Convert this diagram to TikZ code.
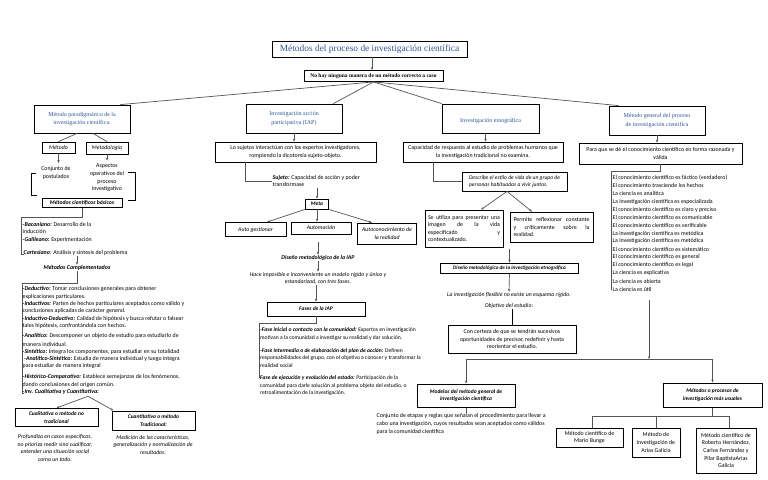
\documentclass[tikz,border=0pt]{standalone}
\usepackage{fontspec}
\setmainfont{Carlito}
\newfontfamily\serifblue{Liberation Serif}
\usetikzlibrary{arrows.meta,calc}
\definecolor{cblue}{RGB}{47,85,151}
\definecolor{lgray}{RGB}{85,85,85}
\newcommand\bi[1]{\textbf{\textit{#1}}}
\newcommand\fz[2]{\fontsize{#1}{#2}\selectfont}
\begin{document}
\begin{tikzpicture}[x=1pt,y=-1pt,
 every node/.style={inner sep=0.5pt, font=\fz{5.9}{7.6}},
 sz/.style 2 args={minimum width=#1pt, minimum height=#2pt},
 bx/.style={draw=black, line width=0.8pt, align=center, inner sep=1pt},
 cat/.style={bx, font=\serifblue\fz{6}{8.5}, text=cblue},
 bif/.style={font=\bfseries\itshape\fz{5.5}{7.6}},
 itf/.style={font=\itshape\fz{5.8}{7.6}},
 txt/.style={align=center},
 conn/.style={draw=lgray, line width=0.7pt},
 arr/.style={conn, -{Stealth[length=3pt,width=2.4pt]}},
]
\fill[white] (0,0) rectangle (768,479);
\useasboundingbox (0,0) rectangle (768,479);

% top
\node[bx, sz={195}{16}, font=\serifblue\fz{9.4}{11}, text=cblue] (title) at (369.5,49) {Métodos del proceso de investigación científica};
\node[bx, sz={139}{11}, font=\serifblue\bfseries\fz{5.5}{6}] (sub) at (373.5,76) {No hay ninguna manera de un método correcto a caso};
\draw[arr] ($(title.south)+(2.5,0)$) -- ($(sub.north)+(-1.5,0)$);

\node[cat, sz={96}{28}] (c1) at (82,119) {Método paradigmático de la\\investigación científica.};
\node[cat, sz={96}{29}] (c2) at (294,118.5) {Investigación acción\\participativa (IAP)};
\node[cat, sz={97}{29}] (c3) at (490.5,118.5) {\mbox{}\\Investigación etnográfica};
\node[cat, sz={96}{29}] (c4) at (657,120.5) {Método general del proceso\\de investigación científica};
\draw[conn] (sub.south) -- ([xshift=-10pt]c1.north east);
\draw[conn] (sub.south) -- ([xshift=-9pt]c2.north east);
\draw[conn] (sub.south) -- (c3.north west);
\draw[conn] (sub.south) -- ([xshift=10pt]c4.north west);

% column 1
\node[bx, sz={33}{11}, itf] (metodo) at (58.5,147.5) {Método};
\node[bx, sz={42}{12}, itf] (metodol) at (107,148) {Metodología};
\draw[conn] ([xshift=-5pt]c1.south) -- (metodo.north);
\draw[conn] ([xshift=11pt]c1.south) -- (metodol.north);
\node[txt] (conj) at (56,173) {Conjunto de\\postulados};
\node[txt] (asp) at (107,178) {Aspectos\\operativos del\\proceso\\investigativo};
\draw[arr, shorten >=3pt] (metodo.south) -- (metodo.south |- conj.north);
\draw[arr, shorten >=3pt] (metodol.south) -- (metodol.south |- asp.north);
\draw[line width=0.7pt] (36,173) -- (31,173) -- (31,195) -- (37,195);
\draw[line width=0.7pt] (128,172) -- (135,172) -- (135,200) -- (128,200);
\node[bx, line width=1pt, sz={80}{9}, bif, font=\bfseries\itshape\fz{5.7}{7}] (basicos) at (82,202.5) {Métodos científicos básicos};
\coordinate (bk1) at (21,217);
\coordinate (bk2) at (21,254);
\draw[conn] (basicos.south) |- (bk1) -- (bk2) -- ++(3,0);
\node[anchor=west, align=left] (baco) at (22,228) {\bi{-Baconiano:} Desarrollo de la\\inducción};
\node[anchor=west] (gali) at (22,240) {\bi{-Galileano:} Experimentación};
\node[anchor=west] (cart) at (23,253) {\bi{Cartesiano}: Análisis y síntesis del problema};
\node[font=\bfseries\itshape\fz{6}{7}] (comp) at (77,268) {Métodos Complementados};
\draw[arr] (cart.south -| comp.north) -- (comp.north);
\coordinate (ck1) at (22,283);
\coordinate (ck2) at (22,393);
\draw[conn] (comp.south) |- (ck1) -- (ck2) -- ++(2,0);
\foreach \ty/\tx [count=\i] in {
 289/{\bi{-Deductivo:} Tomar conclusiones generales para obtener},
 297/{explicaciones particulares.},
 304/{\bi{-Inductivos:} Parten de hechos particulares aceptados como válido y},
 311/{conclusiones aplicadas de carácter general.},
 319/{\bi{-Inductivo-Deductivo:} Calidad de hipótesis y busca refutar o falsear},
 326/{tales hipótesis, confrontándola con hechos.},
 336/{\bi{-Analítico:} Descomponer un objeto de estudio para estudiarlo de},
 344/{manera individual.},
 352/{\bi{-Sintético:} Integra los componentes, para estudiar en su totalidad},
 359/{\hspace{1.5pt}\bi{-Analítico-Sintético:} Estudia de manera individual y luego integra},
 366/{para estudiar de manera integral},
 377/{\bi{-Histórico-Comparativo:} Establece semejanzas de los fenómenos,},
 385/{dando conclusiones del origen común.},
 392/{\bi{-Inv. Cualitativa y Cuantitativa:}}}
 \node[anchor=west] (l\i) at (22,\ty) {\tx};
\node[bx, line width=1pt, sz={83}{18}, bif] (qual) at (56.5,417.5) {Cualitativa o método no\\tradicional};
\node[bx, line width=1pt, sz={83}{19}, bif] (quant) at (153.5,420.5) {Cuantitativa o método\\Tradicional:};
\draw[arr] ($(l14.south west)+(66,1)$) -- (qual.north);
\draw[arr] ($(l14.south west)+(66,1)$) -- ([xshift=2pt]quant.north west);
\node[txt, itf] (qtx) at (55,448) {Profundiza en casos específicos,\\no prioriza medir sino cualificar,\\entender una situación social\\como un todo.};
\node[txt, itf] (ntx) at (153,445) {Medición de las características,\\generalización y normalización de\\resultados.};

% column 2
\node[bx, sz={161}{20}] (iap1) at (295.5,152) {Lo sujetos interactúan con los expertos investigadores,\\rompiendo la dicotomía sujeto-objeto.};
\draw[arr] (c2.south) -- (c2.south |- iap1.north);
\node[anchor=west, align=left] (suj) at (272,181) {\bi{Sujeto:} Capacidad de acción y poder\\transformase};
\draw[conn] ([xshift=-50.5pt]iap1.south) |- (suj.west);
\node[bx, sz={23}{10}, bif] (meta) at (317,204) {Meta};
\draw[arr] (suj.south -| meta.north) -- (meta.north);
\node[bx, sz={61}{14}, itf] (au1) at (255.5,229.5) {Auto gestionar};
\node[bx, sz={60}{12}, itf] (au2) at (321,228) {Automación};
\node[bx, sz={59}{21}, itf] (au3) at (387,233.5) {Autoconocimiento de\\la realidad};
\draw[arr] (meta.south west) -- ([xshift=11.5pt]au1.north);
\draw[arr] (meta.south) -- (meta.south |- au2.north);
\draw[arr] (meta.south east) -- ([xshift=-15pt]au3.north);
\node[font=\bfseries\itshape\fz{5.8}{7}] (dis1) at (318,258) {Diseño metodológico de la IAP};
\draw[arr] ($(au2.south -| dis1.north)+(0,8)$) -- (dis1.north);
\node[txt, itf] (hac) at (318,278.5) {Hace imposible e inconveniente un modelo rígido y único y\\estandarizad, con tres fases.};
\draw[arr] (dis1.south) -- (hac.north);
\node[bx, sz={98}{14}, bif] (fases) at (316,309) {Fases de la IAP};
\draw[arr] (hac.south -| fases.north) -- (fases.north);
\coordinate (fk1) at (259,323);
\coordinate (fk2) at (259,378);
\draw[conn] (fases.south) |- (fk1) -- (fk2);
\foreach \ty/\tx [count=\i] in {
 330/{\bi{-Fase inicial o contacto con la comunidad:} Expertos en investigación},
 338/{motivan a la comunidad a investigar su realidad y dar solución.},
 351/{\bi{-Fase intermedia o de elaboración del plan de acción:} Definen},
 358/{responsabilidades del grupo, con el objetivo a conocer y transformar la},
 366/{realidad social},
 378/{\bi{Fase de ejecución y evolución del estado:} Participación de la},
 386/{comunidad para darle solución al problema objeto del estudio, o},
 393/{retroalimentación de la investigación.}}
 \node[anchor=west, font=\fz{5.6}{7.6}] (f\i) at (259.5,\ty) {\tx};

% column 3
\node[bx, sz={160}{20}] (cap) at (483,152) {Capacidad de respuesta al estudio de problemas humanos que\\la investigación tradicional no examina.};
\draw[arr] ([xshift=-5pt]c3.south) -- ([xshift=2.5pt]cap.north);
\node[bx, sz={105}{19}, align=left, font=\itshape\fz{5.6}{7.6}] (desc) at (514.5,181.5) {Describe el estilo de vida de un grupo de\\personas habituadas a vivir juntos.};
\draw[conn] ([xshift=-50pt]cap.south) |- (desc.west);
\node[bx, sz={78}{37}, align=left] (se) at (464,228.5) {\makebox[72pt][s]{Se utiliza para presentar una}\\\makebox[72pt][s]{imagen de la vida}\\\makebox[72pt][s]{especificado y}\\contextualizado.};
\node[bx, sz={83}{30}, align=left] (perm) at (551.5,227) {\makebox[76pt][s]{Permite reflexionar constante}\\\makebox[76pt][s]{y críticamente sobre la}\\realidad.};
\draw[arr] ([xshift=-7.5pt]desc.south) -- ([xshift=17pt]se.north);
\draw[arr] ([xshift=-7.5pt]desc.south) -- ([xshift=-19.5pt]perm.north);
\node[bx, sz={138}{10}, font=\bfseries\itshape\fz{5.2}{6.5}] (dis2) at (509.5,268) {Diseño metodológico de la investigación etnográfica};
\draw[arr] ($(dis2.north)+(0,-14)$) -- (dis2.north);
\node[itf] (flex) at (509,295) {La investigación flexible no existe un esquema rígido.};
\draw[arr] (dis2.south) -- (flex.north);
\node[itf] (obj) at (509,306) {Objetivo del estudio:};
\node[bx, sz={128}{28}] (cert) at (512,339) {Con certeza de que se tendrán sucesivos\\oportunidades de precisar, redefinir y hasta\\reorientar el estudio.};
\draw[line width=1pt] (obj.south -| cert.north) -- (cert.north);

% column 4
\node[bx, sz={163}{21}] (para) at (660.5,153.5) {Para que se dé el conocimiento científico en forma razonada y\\válida};
\draw[arr] (c4.south) -- (c4.south |- para.north);
\coordinate (pk1) at (611,171);
\coordinate (pk2) at (611,290);
\draw[conn] (para.south) |- (pk1) -- (pk2);
\foreach \tx [count=\i] in {El conocimiento científico es fáctico (verdadero),
 El conocimiento trasciende los hechos, La ciencia es analítica,
 La investigación científica es especializada, El conocimiento científico es claro y preciso,
 El conocimiento científico es comunicable, El conocimiento científico es verificable,
 La investigación científica es metódica, La investigación científica es metódica,
 El conocimiento científico es sistemático, El conocimiento científico es general,
 El conocimiento científico es legal, La ciencia es explicativa,
 La ciencia es abierta, La ciencia es útil}
 \node[anchor=west] (k\i) at (612,{178+7.93*(\i-1)}) {\tx};
\coordinate (vtop) at (649,300);
\coordinate (vj) at (649,359);
\draw[arr] (vtop) -- (vj);
\node[bx, line width=1pt, sz={98}{23}, bif] (model) at (466,395.5) {Modelos del método general de\\investigación científica};
\node[bx, line width=1pt, sz={99}{24}, bif] (meto) at (712.5,395) {Métodos o procesos de\\investigación más usuales};
\draw[arr] (vj) -| (model.north);
\draw[arr] (vj) -| (meto.north);
\node[anchor=north west, align=left] (cjt) at (376,413) {Conjunto de etapas y reglas que señalan el procedimiento para llevar a\\cabo una investigación, cuyos resultados sean aceptados como válidos\\para la comunidad científica};
\draw[conn] (model.south) -- (model.south |- cjt.north);
\coordinate (mj) at (712.5,416);
\draw[conn] (meto.south) -- (mj);
\node[bx, sz={67}{19}] (bunge) at (589.5,437.5) {Método científico de\\Mario Bunge};
\node[bx, sz={48}{29}] (arias) at (656,442.5) {Método de\\investigación de\\Arias Galicia};
\node[bx, line width=1pt, sz={60}{45}] (hern) at (726,450.5) {Método científico de\\Roberto Hernández,\\Carlos Fernández y\\Pilar BaptistaArias\\Galicia};
\draw[conn] (mj) -| ([xshift=2.5pt]bunge.north);
\draw[conn] (mj) -| (arias.north);
\draw[conn] (mj) -| ([xshift=3pt]hern.north);
\end{tikzpicture}
\end{document}
